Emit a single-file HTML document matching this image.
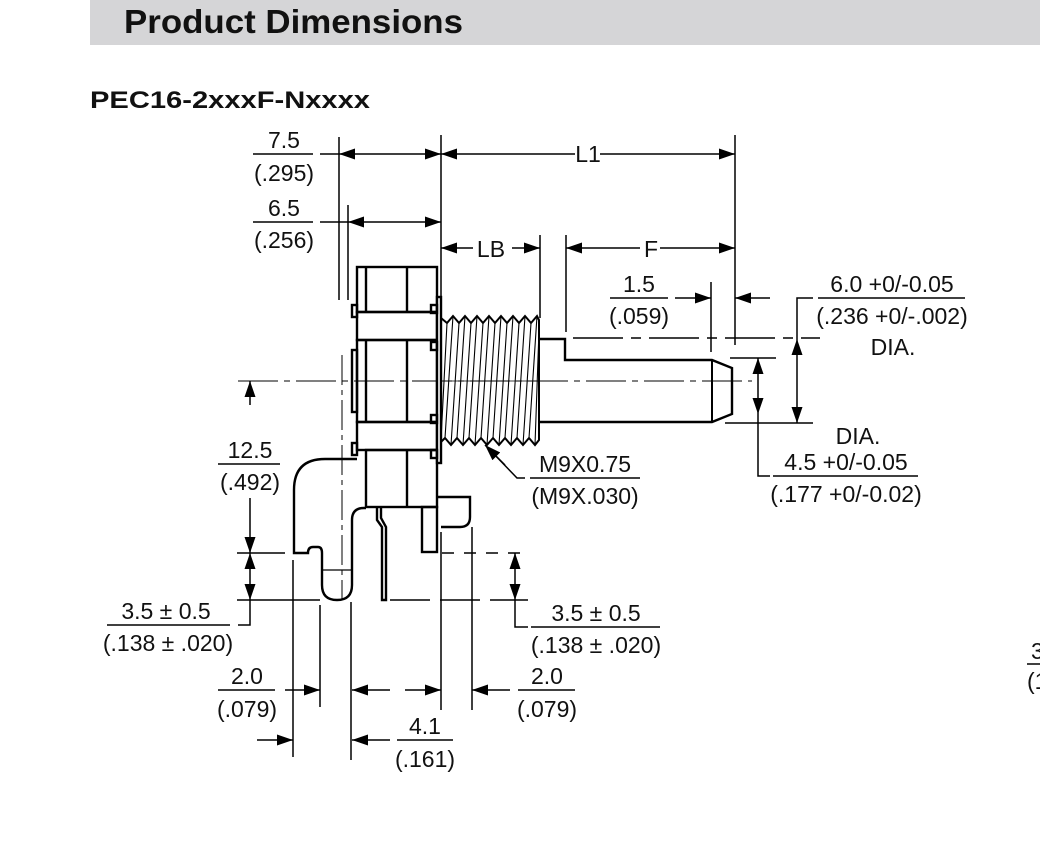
<!DOCTYPE html>
<html><head><meta charset="utf-8"><style>
html,body{margin:0;padding:0;background:#fff;}
svg{display:block;}
text{font-family:"Liberation Sans",sans-serif;font-size:23px;fill:#111;}
.t{text-anchor:middle;}
</style></head><body>
<svg width="1040" height="868" viewBox="0 0 1040 868" xmlns="http://www.w3.org/2000/svg">
<defs>
<marker id="a" viewBox="0 0 16 11" refX="16" refY="5.5" markerWidth="16" markerHeight="11" markerUnits="userSpaceOnUse" orient="auto"><path d="M0,0 L16,5.5 L0,11 z" fill="#000"/></marker>
</defs>
<rect x="90" y="0" width="950" height="45" fill="#d5d5d7"/>
<text x="124" y="33" textLength="339" lengthAdjust="spacingAndGlyphs" style="font-size:33px;font-weight:bold">Product Dimensions</text>
<text x="90" y="108" textLength="280" lengthAdjust="spacingAndGlyphs" style="font-size:24px;font-weight:bold">PEC16-2xxxF-Nxxxx</text>

<g stroke="#000" stroke-width="1.5" fill="none">
<line x1="339" y1="137" x2="339" y2="300"/>
<line x1="348" y1="205" x2="348" y2="300"/>
<line x1="441" y1="135" x2="441" y2="298"/>
<line x1="540" y1="235" x2="540" y2="318"/>
<line x1="566" y1="235" x2="566" y2="332"/>
<line x1="735" y1="135" x2="735" y2="345"/>
<line x1="711" y1="282" x2="711" y2="352"/>
<line x1="320" y1="154" x2="339" y2="154"/>
<line x1="390" y1="154" x2="339" y2="154" marker-end="url(#a)"/>
<line x1="390" y1="154" x2="441" y2="154" marker-end="url(#a)"/>
<line x1="575" y1="154" x2="441" y2="154" marker-end="url(#a)"/>
<line x1="600" y1="154" x2="735" y2="154" marker-end="url(#a)"/>
<line x1="320" y1="222" x2="348" y2="222"/>
<line x1="395" y1="222" x2="348" y2="222" marker-end="url(#a)"/>
<line x1="395" y1="222" x2="441" y2="222" marker-end="url(#a)"/>
<line x1="473" y1="248" x2="441" y2="248" marker-end="url(#a)"/>
<line x1="512" y1="248" x2="540" y2="248" marker-end="url(#a)"/>
<line x1="640" y1="248" x2="566" y2="248" marker-end="url(#a)"/>
<line x1="660" y1="248" x2="735" y2="248" marker-end="url(#a)"/>
<line x1="675" y1="298" x2="711" y2="298" marker-end="url(#a)"/>
<line x1="770" y1="298" x2="735" y2="298" marker-end="url(#a)"/>
<line x1="238" y1="381" x2="752" y2="381" stroke-dasharray="40,6,6,6" stroke-width="1"/>
<line x1="342" y1="355" x2="342" y2="600" stroke-dasharray="30,5,5,5" stroke-width="1"/>
<path d="M539,339 H565 V360 H712 L732,368 V414 L712,422 H539" stroke-width="2.4"/>
<line x1="712" y1="360" x2="712" y2="422" stroke-width="2"/>
<line x1="573" y1="338" x2="820" y2="338" stroke-dasharray="50,8,10,8"/>
<line x1="725" y1="423" x2="813" y2="423"/>
<line x1="797" y1="380" x2="797" y2="339" marker-end="url(#a)"/>
<line x1="797" y1="380" x2="797" y2="423" marker-end="url(#a)"/>
<path d="M797,339 V298 H813"/>
<line x1="818" y1="298" x2="965" y2="298"/>
<line x1="730" y1="358" x2="776" y2="358"/>
<line x1="758" y1="390" x2="758" y2="358" marker-end="url(#a)"/>
<line x1="758" y1="390" x2="758" y2="414" marker-end="url(#a)"/>
<path d="M758,414 V476 H770"/>
<line x1="773" y1="476" x2="918" y2="476"/>
<g stroke-width="2.4">
<rect x="357" y="267" width="80" height="45"/>
<rect x="357" y="312" width="80" height="28"/>
<rect x="357" y="340" width="80" height="82"/>
<rect x="357" y="422" width="80" height="28"/>
<rect x="366" y="450" width="71" height="57"/>
<line x1="366" y1="267" x2="366" y2="312"/><line x1="366" y1="340" x2="366" y2="422"/>
<line x1="407" y1="267" x2="407" y2="312"/><line x1="407" y1="340" x2="407" y2="422"/><line x1="407" y1="450" x2="407" y2="507"/>
<rect x="437" y="297" width="4" height="166" fill="#fff"/>
<rect x="352" y="305" width="5" height="12"/><rect x="352" y="350" width="5" height="62"/><rect x="352" y="443" width="5" height="12"/>
<rect x="431" y="305" width="6" height="8"/><rect x="431" y="342" width="6" height="8"/><rect x="431" y="415" width="6" height="8"/><rect x="431" y="450" width="6" height="8"/>
<path d="M357,459 H325 Q294,459 294,490 V553 H308 Q308,547 313,547 H318 Q322,547 322,553 V585 Q322,600 337,600 Q352,600 352,585 V520 Q352,508 364,508 H366"/>
<line x1="322" y1="570" x2="352" y2="570" stroke-width="1.3"/>
<path d="M437,497 H470 V517 Q470,527 460,527 H441"/>
<rect x="422" y="507" width="15" height="45"/>
<path d="M377,507 V520 L382,527 V600 H386 V527 L381,518 V507"/>
</g>
<path d="M441,318 L447,323 L453,316 L459,323 L465,316 L471,323 L477,316 L483,323 L489,316 L495,323 L501,316 L507,323 L513,316 L519,323 L525,316 L531,323 L537,316 L539,320 V440 L535,445 L529,438 L523,445 L517,438 L511,445 L505,438 L499,445 L493,438 L487,445 L481,438 L475,445 L469,438 L463,445 L457,438 L451,445 L445,438 L441,442 Z" stroke-width="2"/>
<g stroke-width="1.1">
<path d="M447,323 L441,440 M453,316 L445,438 M459,323 L451,445 M465,316 L457,438 M471,323 L463,445 M477,316 L469,438 M483,323 L475,445 M489,316 L481,438 M495,323 L487,445 M501,316 L493,438 M507,323 L499,445 M513,316 L505,438 M519,323 L511,445 M525,316 L517,438 M531,323 L523,445 M537,316 L529,438 M539,330 L535,445"/>
</g>
<line x1="441" y1="381" x2="539" y2="381" stroke-width="0.8"/>
<path d="M525,478 H517 L490,450"/>
<line x1="505" y1="465" x2="485" y2="445" marker-end="url(#a)"/>
<line x1="530" y1="478" x2="640" y2="478"/>
<line x1="250" y1="405" x2="250" y2="381" marker-end="url(#a)"/>
<line x1="250" y1="498" x2="250" y2="553" marker-end="url(#a)"/>
<line x1="237" y1="553" x2="285" y2="553"/>
<line x1="237" y1="600" x2="320" y2="600"/>
<line x1="250" y1="575" x2="250" y2="553" marker-end="url(#a)"/>
<line x1="250" y1="575" x2="250" y2="600" marker-end="url(#a)"/>
<path d="M250,600 V625 H238"/>
<line x1="107" y1="625" x2="230" y2="625"/>
<line x1="218" y1="464" x2="280" y2="464"/>
<line x1="293" y1="560" x2="293" y2="757"/>
<line x1="320" y1="605" x2="320" y2="707"/>
<line x1="351" y1="602" x2="351" y2="760"/>
<line x1="441" y1="532" x2="441" y2="710"/>
<line x1="472" y1="527" x2="472" y2="710"/>
<line x1="285" y1="690" x2="320" y2="690" marker-end="url(#a)"/>
<line x1="390" y1="690" x2="352" y2="690" marker-end="url(#a)"/>
<line x1="405" y1="690" x2="441" y2="690" marker-end="url(#a)"/>
<line x1="510" y1="690" x2="472" y2="690" marker-end="url(#a)"/>
<line x1="257" y1="740" x2="293" y2="740" marker-end="url(#a)"/>
<line x1="390" y1="740" x2="352" y2="740" marker-end="url(#a)"/>
<line x1="218" y1="690" x2="275" y2="690"/>
<line x1="397" y1="740" x2="453" y2="740"/>
<line x1="518" y1="690" x2="575" y2="690"/>
<line x1="442" y1="553" x2="528" y2="553" stroke-dasharray="12,10"/>
<line x1="390" y1="600" x2="528" y2="600" stroke-dasharray="40,10"/>
<line x1="515" y1="578" x2="515" y2="553" marker-end="url(#a)"/>
<line x1="515" y1="578" x2="515" y2="600" marker-end="url(#a)"/>
<path d="M515,600 V627 H528"/>
<line x1="531" y1="627" x2="660" y2="627"/>
<line x1="253" y1="154" x2="313" y2="154"/>
<line x1="253" y1="222" x2="313" y2="222"/>
<line x1="610" y1="298" x2="668" y2="298"/>
<line x1="1027" y1="664" x2="1040" y2="664"/>
</g>

<text class="t" x="284" y="148">7.5</text><text class="t" x="284" y="181">(.295)</text>
<text class="t" x="284" y="216">6.5</text><text class="t" x="284" y="248">(.256)</text>
<text class="t" x="588" y="162">L1</text>
<text class="t" x="491" y="257">LB</text>
<text class="t" x="651" y="257">F</text>
<text class="t" x="639" y="292">1.5</text><text class="t" x="639" y="324">(.059)</text>
<text class="t" x="892" y="292">6.0 +0/-0.05</text><text class="t" x="892" y="324">(.236 +0/-.002)</text><text class="t" x="893" y="355">DIA.</text>
<text class="t" x="858" y="444">DIA.</text>
<text class="t" x="846" y="470">4.5 +0/-0.05</text><text class="t" x="846" y="502">(.177 +0/-0.02)</text>
<text class="t" x="585" y="472">M9X0.75</text><text class="t" x="585" y="504">(M9X.030)</text>
<text class="t" x="250" y="458">12.5</text><text class="t" x="250" y="490">(.492)</text>
<text class="t" x="166" y="619">3.5 ± 0.5</text><text class="t" x="168" y="651">(.138 ± .020)</text>
<text class="t" x="596" y="621">3.5 ± 0.5</text><text class="t" x="596" y="653">(.138 ± .020)</text>
<text class="t" x="247" y="684">2.0</text><text class="t" x="247" y="717">(.079)</text>
<text class="t" x="547" y="684">2.0</text><text class="t" x="547" y="717">(.079)</text>
<text class="t" x="425" y="734">4.1</text><text class="t" x="425" y="767">(.161)</text>
<text x="1031" y="659">3</text><text x="1027" y="689">(1</text>
</svg>
</body></html>
